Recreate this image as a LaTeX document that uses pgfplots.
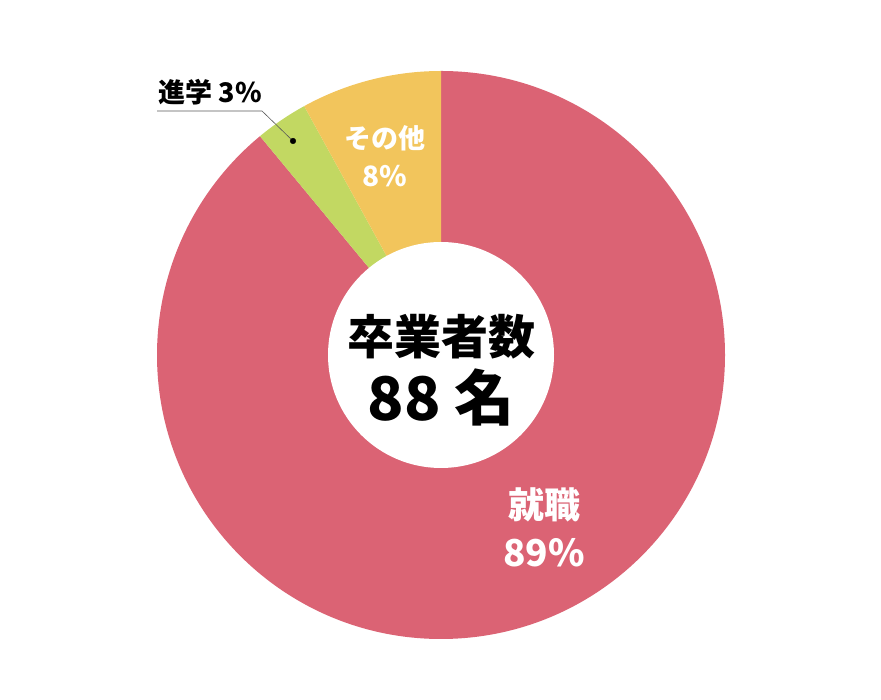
\documentclass[border=0pt]{standalone}
\usepackage{pgfplots}
\pgfplotsset{compat=1.18}
\usepackage{pgfplotstable}
\usepackage{fontspec}
\setmainfont{Noto Sans CJK JP}
\definecolor{cred}{HTML}{DB6374}
\definecolor{cgreen}{HTML}{C2D862}
\definecolor{cyellow}{HTML}{F2C55C}
\pgfplotstableread{
name value
就職 89
進学 3
その他 8
}\piedata
\pgfplotstablegetelem{0}{value}\of\piedata \pgfmathsetmacro\va{\pgfplotsretval}
\pgfplotstablegetelem{1}{value}\of\piedata \pgfmathsetmacro\vb{\pgfplotsretval}
\pgfplotstablegetelem{2}{value}\of\piedata \pgfmathsetmacro\vc{\pgfplotsretval}
\pgfmathsetmacro\aA{90}
\pgfmathsetmacro\aB{\aA-3.6*\va}
\pgfmathsetmacro\aC{\aB-3.6*\vb}
\pgfmathsetmacro\aD{\aC-3.6*\vc}
\newcommand{\fs}[1]{\fontsize{#1}{#1}\selectfont\bfseries}
\begin{document}
\begin{tikzpicture}
\begin{axis}[
  x=1pt, y=1pt,
  xmin=0, xmax=881, ymin=0, ymax=700,
  hide axis, clip=false,
]
\path (axis cs:0,0) rectangle (axis cs:881,700);
\fill[cred] (axis cs:441,345) -- ++(\aA:284pt) arc[start angle=\aA, end angle=\aB, radius=284pt] -- cycle;
\fill[cgreen] (axis cs:441,345) -- ++(\aB:284pt) arc[start angle=\aB, end angle=\aC, radius=284pt] -- cycle;
\fill[cyellow] (axis cs:441,345) -- ++(\aC:284pt) arc[start angle=\aC, end angle=\aD, radius=284pt] -- cycle;
\fill[white] (axis cs:441,345) circle[radius=113pt];
\draw[black!65, line width=0.6pt] (axis cs:157,589) -- (axis cs:262,589) -- (axis cs:293,559);
\addplot[only marks, mark=*, mark size=2.8pt, black] coordinates {(293,559)};
\node[inner sep=0, text=black] at (axis cs:210,608) {\fs{27}進学 3\%};
\node[inner sep=0, text=white] at (axis cs:385,562) {\fs{27}その他};
\node[inner sep=0, text=white] at (axis cs:385,524) {\fs{28}8\%};
\node[inner sep=0, text=black] at (axis cs:441,363) {\fs{47}卒業者数};
\node[inner sep=0, text=black] at (axis cs:441,303) {\fs{60}88 名};
\node[inner sep=0, text=white] at (axis cs:544,195) {\fs{36}就職};
\node[inner sep=0, text=white] at (axis cs:544,147) {\fs{37}89\%};
\end{axis}
\end{tikzpicture}
\end{document}
